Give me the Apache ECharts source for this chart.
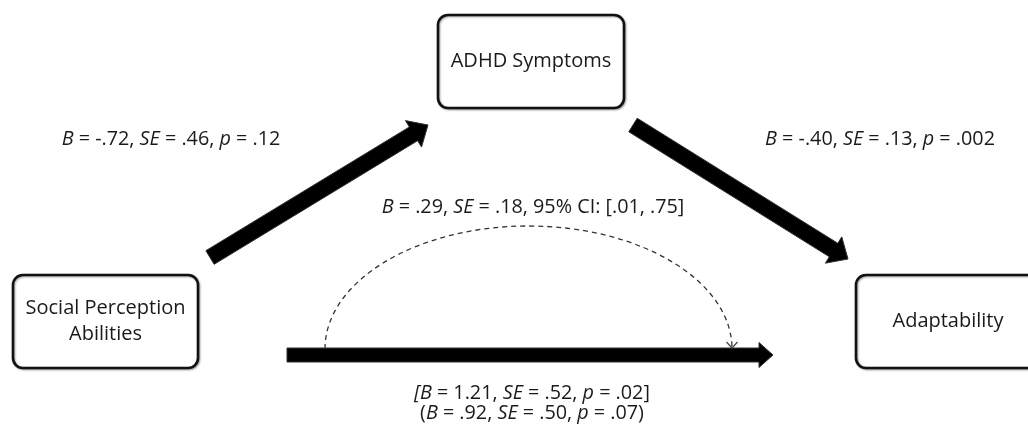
<!DOCTYPE html>
<html>
<head>
<meta charset="utf-8">
<script src="https://cdn.jsdelivr.net/npm/echarts@6/dist/echarts.min.js"></script>
<style>html,body{margin:0;padding:0;background:#fff;}#c{width:1028px;height:426px;}</style>
</head>
<body>
<div id="c"></div>
<script>
// ---- data ----
const variables = ['Social Perception\nAbilities', 'ADHD Symptoms', 'Adaptability'];
const pathNames = ['a', 'b', 'ab', 'c', "c'"];
const pathB  = ['-.72', '-.40', '.29', '1.21', '.92'];
const pathSE = ['.46', '.13', '.18', '.52', '.50'];
const pathP  = ['.12', '.002', null, '.02', '.07'];
const indirectCI = ['.01', '.75'];

// ---- layout (diagram coordinates == value axes 0..1028 x 0..426) ----
const FONT = 'Open Sans';
const FS = 19.8;
const layout = {
  boxes: [
    {cx: 105.5, cy: 321.5, w: 185, h: 93},
    {cx: 531,   cy: 61.5,  w: 186, h: 93},
    {cx: 948,   cy: 321.5, w: 184, h: 93}
  ],
  arrows: [
    {from: [210, 257.5], to: [428, 125], shaft: 16, headW: 31, headL: 17},
    {from: [633, 125],   to: [848, 259], shaft: 16, headW: 31, headL: 17},
    {from: [287, 355],   to: [773, 355], shaft: 14, headW: 25, headL: 14}
  ],
  arc: {x1: 325, x2: 732, y: 349, top: 226},
  labels: [
    {x: 171, y: 139},
    {x: 880, y: 139},
    {x: 533, y: 207},
    {x: 532, y: 393},
    {x: 532, y: 413}
  ]
};

function labelText(i) {
  let s = '{i|B}{n| = ' + pathB[i] + ', }{i|SE}{n| = ' + pathSE[i];
  if (pathP[i] !== null) s += ', }{i|p}{n| = ' + pathP[i] + '}';
  else s += ', 95% CI: [' + indirectCI[0] + ', ' + indirectCI[1] + ']}';
  if (pathNames[i] === 'c') s = '{i|[}' + s + '{n|]}';
  if (pathNames[i] === "c'") s = '{n|(}' + s + '{n|)}';
  return s;
}
const rich = {
  i: {fontStyle: 'italic', fontSize: FS, fontFamily: FONT, fill: '#1a1a1a'},
  n: {fontSize: FS, fontFamily: FONT, fill: '#1a1a1a'}
};

const chart = echarts.init(document.getElementById('c'), null, {renderer: 'canvas'});
chart.setOption({
  animation: false,
  backgroundColor: '#ffffff',
  grid: {left: 0, right: 0, top: 0, bottom: 0},
  xAxis: {type: 'value', min: 0, max: 1028, show: false},
  yAxis: {type: 'value', min: 0, max: 426, inverse: true, show: false},
  series: [
    {
      type: 'custom', name: 'arrows',
      data: layout.arrows.map((a, i) => [a.from[0], a.from[1], a.to[0], a.to[1]]),
      renderItem: function (params, api) {
        const a = layout.arrows[params.dataIndex];
        const p0 = api.coord([api.value(0), api.value(1)]);
        const p1 = api.coord([api.value(2), api.value(3)]);
        const dx = p1[0] - p0[0], dy = p1[1] - p0[1];
        const len = Math.sqrt(dx * dx + dy * dy);
        const ux = dx / len, uy = dy / len, nx = -uy, ny = ux;
        const nk = [p1[0] - ux * a.headL, p1[1] - uy * a.headL];
        const s = a.shaft / 2, h = a.headW / 2;
        const pts = [
          [p0[0] + nx * s, p0[1] + ny * s],
          [nk[0] + nx * s, nk[1] + ny * s],
          [nk[0] + nx * h, nk[1] + ny * h],
          p1,
          [nk[0] - nx * h, nk[1] - ny * h],
          [nk[0] - nx * s, nk[1] - ny * s],
          [p0[0] - nx * s, p0[1] - ny * s]
        ];
        return {type: 'polygon', shape: {points: pts}, style: {fill: '#000', stroke: '#333', lineWidth: 1}};
      }
    },
    {
      type: 'custom', name: 'indirect',
      data: [[layout.arc.x1, layout.arc.y, layout.arc.x2, layout.arc.top]],
      renderItem: function (params, api) {
        const A = api.coord([api.value(0), api.value(1)]);
        const B = api.coord([api.value(2), api.value(1)]);
        const T = api.coord([(api.value(0) + api.value(2)) / 2, api.value(3)]);
        const k = 0.5523;
        const rx = (B[0] - A[0]) / 2, ry = A[1] - T[1];
        const d = 'M' + A[0] + ' ' + A[1] +
          ' C' + A[0] + ' ' + (A[1] - k * ry) + ' ' + (T[0] - k * rx) + ' ' + T[1] + ' ' + T[0] + ' ' + T[1] +
          ' C' + (T[0] + k * rx) + ' ' + T[1] + ' ' + B[0] + ' ' + (B[1] - k * ry) + ' ' + B[0] + ' ' + B[1];
        return {
          type: 'group',
          children: [
            {type: 'path', shape: {pathData: d}, style: {fill: null, stroke: '#333', lineWidth: 1.3, lineDash: [5, 4]}},
            {type: 'polyline', shape: {points: [[B[0] - 5.5, B[1] - 7], [B[0], B[1] - 1], [B[0] + 5.5, B[1] - 7]]},
             style: {fill: null, stroke: '#444', lineWidth: 1.2}}
          ]
        };
      }
    },
    {
      type: 'custom', name: 'variables',
      data: variables.map((v, i) => [layout.boxes[i].cx, layout.boxes[i].cy]),
      renderItem: function (params, api) {
        const b = layout.boxes[params.dataIndex];
        const c = api.coord([api.value(0), api.value(1)]);
        return {
          type: 'group',
          children: [
            {type: 'rect', shape: {x: c[0] - b.w / 2, y: c[1] - b.h / 2, width: b.w, height: b.h, r: 10},
             style: {fill: '#fff', stroke: '#111', lineWidth: 2.6, shadowBlur: 2, shadowColor: 'rgba(0,0,0,0.35)', shadowOffsetX: 1, shadowOffsetY: 1}},
            {type: 'text', x: c[0], y: c[1],
             style: {text: variables[params.dataIndex], fontSize: 20, fontFamily: FONT, fill: '#1a1a1a',
                     align: 'center', verticalAlign: 'middle', lineHeight: 26}}
          ]
        };
      }
    },
    {
      type: 'custom', name: 'coefficients',
      data: pathNames.map((n, i) => [layout.labels[i].x, layout.labels[i].y]),
      renderItem: function (params, api) {
        const c = api.coord([api.value(0), api.value(1)]);
        return {
          type: 'text', x: c[0], y: c[1],
          style: {text: labelText(params.dataIndex), rich: rich, fontSize: FS, fontFamily: FONT,
                  align: 'center', verticalAlign: 'middle'}
        };
      }
    }
  ]
});
</script>
</body>
</html>
